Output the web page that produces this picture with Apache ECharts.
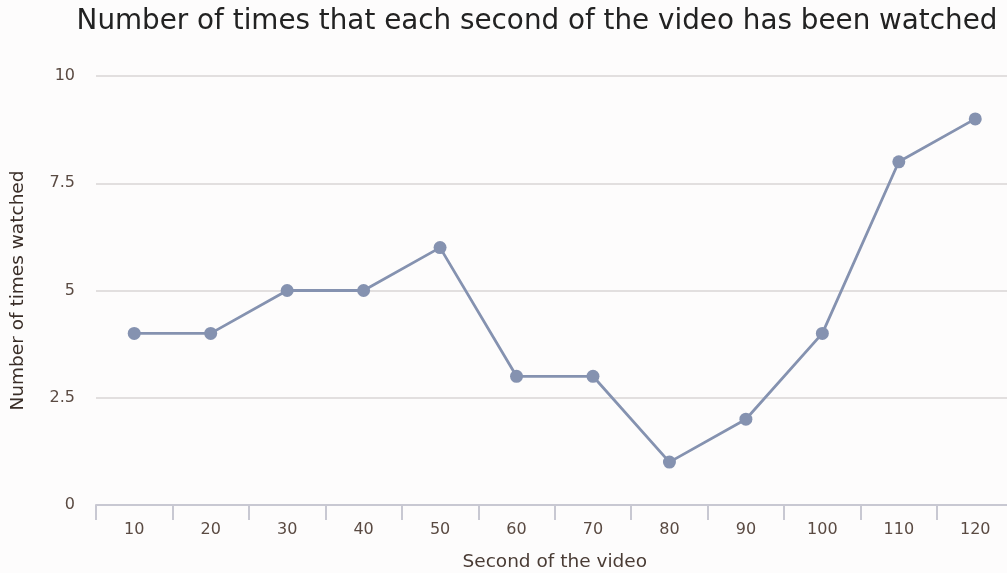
<!DOCTYPE html>
<html><head><meta charset="utf-8">
<script src="https://cdn.jsdelivr.net/npm/echarts@6/dist/echarts.min.js"></script>
<style>html,body{margin:0;padding:0;background:#fdfcfc}#c{width:1007px;height:573px}</style>
</head><body><div id="c"></div>
<script>
const categories = ['10','20','30','40','50','60','70','80','90','100','110','120'];
const watched = [4,4,5,5,6,3,3,1,2,4,8,9];
const yTicks = [0,2.5,5,7.5,10];
const chart = echarts.init(document.getElementById('c'));
const font = 'DejaVu Sans';
chart.setOption({
  backgroundColor:'#fdfcfc',
  animation:false,
  title:{text:'Number of times that each second of the video has been watched',left:532,top:3,textAlign:'center',
    textStyle:{fontFamily:font,fontWeight:'normal',fontSize:27.8,color:'#222'}},
  grid:{left:96,right:-6.5,top:76,bottom:68,containLabel:false,outerBoundsMode:'none'},
  xAxis:{type:'category',data:categories,boundaryGap:true,
    name:'Second of the video',nameLocation:'middle',nameGap:48,
    nameTextStyle:{fontFamily:font,fontSize:18.5,color:'#4a3c35'},
    axisLine:{lineStyle:{color:'#c8c8d2',width:2}},
    axisTick:{show:true,length:15,lineStyle:{color:'#c8c8d2',width:2}},
    axisLabel:{fontFamily:font,fontSize:16,color:'#5a4a42',margin:17}},
  yAxis:{type:'value',min:0,max:10,interval:2.5,
    name:'Number of times watched',nameLocation:'middle',nameGap:68,
    nameTextStyle:{fontFamily:font,fontSize:18.5,color:'#3a2e28'},
    axisLine:{show:false},axisTick:{show:false},
    axisLabel:{fontFamily:font,fontSize:16,color:'#5a4a42',margin:21,
      formatter:v=>yTicks.includes(v)?String(v):''},
    splitLine:{lineStyle:{color:'#d8d6d6',width:1.5}}},
  series:[{type:'line',data:watched,symbol:'circle',symbolSize:13,
    lineStyle:{color:'#8592b0',width:2.8},itemStyle:{color:'#8592b0'}}]
});
</script></body></html>
